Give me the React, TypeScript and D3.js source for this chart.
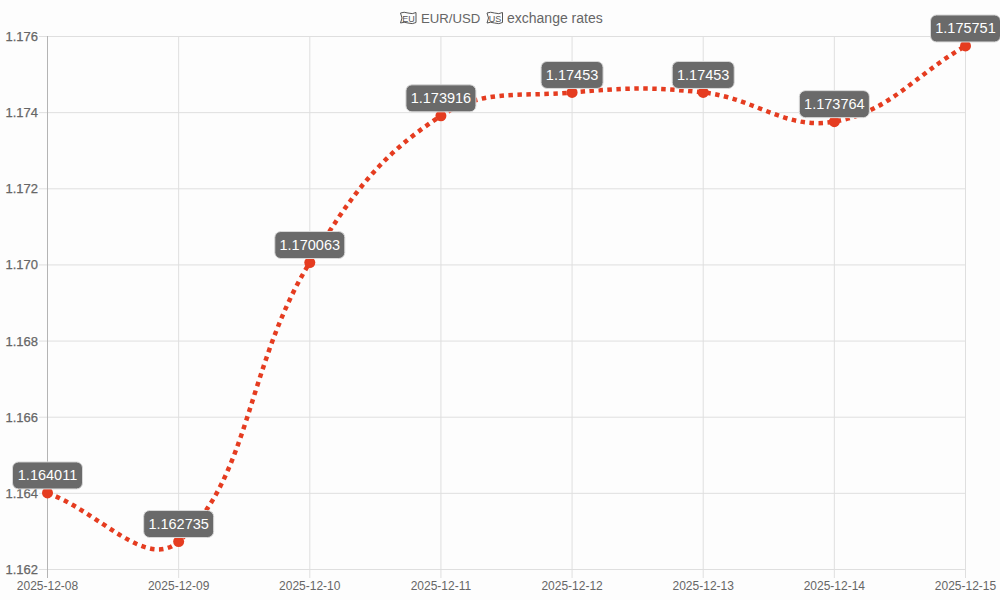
import React from "react";
import * as d3 from "d3";

const dates = ["2025-12-08","2025-12-09","2025-12-10","2025-12-11","2025-12-12","2025-12-13","2025-12-14","2025-12-15"];
const rates = [1.164011,1.162735,1.170063,1.173916,1.17453,1.17453,1.173764,1.175751];
const yTicks = [1.162,1.164,1.166,1.168,1.17,1.172,1.174,1.176];

const FONT = "'Liberation Sans', sans-serif";
const x = d3.scalePoint<string>().domain(dates).range([47.5, 965.5]);
const y = d3.scaleLinear().domain([1.162, 1.176]).range([569.5, 36.5]);
const fmt = d3.format(".3f");

function splinePath(pts: [number, number][], t = 0.4) {
  const p = d3.path();
  const ctrl = pts.map((c, i) => {
    const prev = pts[Math.max(0, i - 1)];
    const next = pts[Math.min(pts.length - 1, i + 1)];
    const d01 = Math.hypot(c[0] - prev[0], c[1] - prev[1]);
    const d12 = Math.hypot(next[0] - c[0], next[1] - c[1]);
    const tot = d01 + d12 || 1;
    const fa = (t * d01) / tot, fb = (t * d12) / tot;
    return {
      px: c[0] - fa * (next[0] - prev[0]), py: c[1] - fa * (next[1] - prev[1]),
      nx: c[0] + fb * (next[0] - prev[0]), ny: c[1] + fb * (next[1] - prev[1]),
    };
  });
  pts.forEach((c, i) => {
    if (i === 0) p.moveTo(c[0], c[1]);
    else p.bezierCurveTo(ctrl[i - 1].nx, ctrl[i - 1].ny, ctrl[i].px, ctrl[i].py, c[0], c[1]);
  });
  return p.toString();
}

function MapIcon({ cx, label }: { cx: number; label: string }) {
  return (
    <g transform={`translate(${cx - 8.5},11.5)`} fill="none" stroke="#555" strokeWidth={1}>
      <path d="M0.5 1.5 Q4 0 8 1.5 Q12.5 3 16 1 L16 11 Q12.5 13 8 11.5 Q4 10 0.5 11.5 L2 6.5 Z" />
      <text x={8.5} y={10} textAnchor="middle" fontSize={9} fontFamily={FONT} fill="#555" stroke="none">{label}</text>
    </g>
  );
}

export default function App() {
  const pts = rates.map((v, i) => [x(dates[i])!, y(v)] as [number, number]);
  return (
    <svg width={1000} height={600} style={{ position: "absolute", left: 0, top: 0, background: "#fdfdfd" }}>
      {yTicks.map((t) => (
        <g key={t}>
          <line x1={39} x2={966} y1={y(t)} y2={y(t)} stroke="#dfdfdf" />
          <text x={38} y={y(t) + 4.5} textAnchor="end" fontSize={13} fontWeight={500} fontFamily={FONT} fill="#666" stroke="#666" strokeWidth={0.25}>{fmt(t)}</text>
        </g>
      ))}
      {dates.map((d, i) => (
        <g key={d}>
          <line x1={x(d)} x2={x(d)} y1={36} y2={578} stroke={i === 0 ? "#b4b4b4" : "#dfdfdf"} />
          <text x={x(d)} y={590} textAnchor="middle" fontSize={12} fontFamily={FONT} fill="#666">{d}</text>
        </g>
      ))}
      <MapIcon cx={408.5} label="EU" />
      <MapIcon cx={495} label="US" />
      <text x={421} y={22.5} fontSize={13.2} fontFamily={FONT} fill="#666">EUR/USD</text>
      <text x={507} y={22.5} fontSize={14} fontFamily={FONT} fill="#666">exchange rates</text>
      <path d={splinePath(pts)} fill="none" stroke="#e53c20" strokeWidth={4.5} strokeDasharray="4.5 4.5" />
      {pts.map((p, i) => <circle key={dates[i]} cx={p[0]} cy={p[1]} r={5.5} fill="#e53c20" />)}
      {pts.map((p, i) => {
        const label = String(rates[i]);
        const w = label.length === 7 ? 62 : 70;
        return (
          <g key={dates[i]}>
            <rect x={p[0] - w / 2} y={p[1] - 31} width={w} height={27} rx={6} fill="#6a6a6a" stroke="#d9d9d9" strokeWidth={1} />
            <text x={p[0]} y={p[1] - 12.5} textAnchor="middle" fontSize={14.5} fontFamily={FONT} fill="#fff">{label}</text>
          </g>
        );
      })}
    </svg>
  );
}
